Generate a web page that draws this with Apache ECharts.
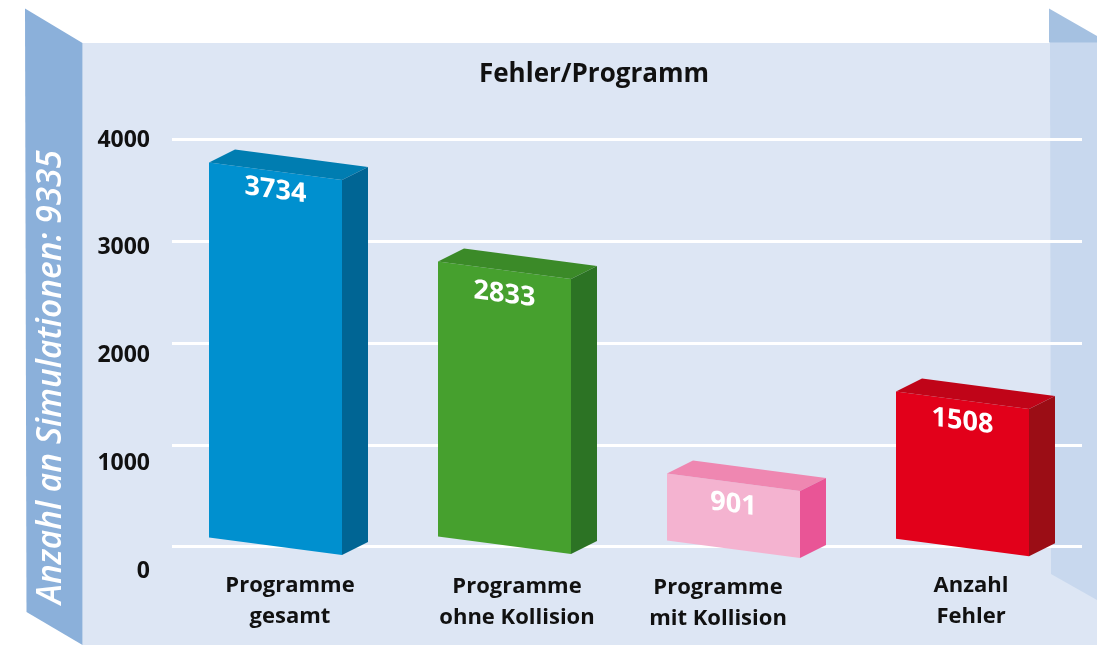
<!DOCTYPE html>
<html>
<head>
<meta charset="utf-8">
<style>html,body{margin:0;padding:0;background:#fff}#c{width:1097px;height:645px}</style>
<script src="https://cdn.jsdelivr.net/npm/echarts@6/dist/echarts.min.js"></script>
</head>
<body>
<div id="c"></div>
<script>
// Data
const categories = ['Programme\ngesamt', 'Programme\nohne Kollision', 'Programme\nmit Kollision', 'Anzahl\nFehler'];
const labelValues = [3734, 2833, 901, 1508];
const drawnTops = [3774, 2801, 717, 1523];
const drawnBases = [88, 98, 59, 76];
const tickValues = [0, 1000, 2000, 3000, 4000];
const titleText = 'Fehler/Programm';
const wallText = 'Anzahl an Simulationen: 9335';

// Styles / layout
const faces = [
  {front:'#0090cf', top:'#007db1', side:'#006594'},
  {front:'#46a02e', top:'#3b8a28', side:'#2c7324'},
  {front:'#f4b3d0', top:'#ef87b1', side:'#e95596'},
  {front:'#e2001a', top:'#c00418', side:'#9b0d15'}
];
const labelDy = [28, 33, 31, 30];
const catPadding = [[0,0,0,4],[1,0,0,0],[2,56,0,0],[0,8,0,0]];
const FONT = '"Open Sans", "Noto Sans", sans-serif';
const W = 133, DX = 26, DY = 13, SLANT = 17.5;

const chart = echarts.init(document.getElementById('c'), null, {renderer:'canvas'});

function renderBar(params, api) {
  const i = api.value(0);
  const t = api.coord([i, api.value(1)]);
  const b = api.coord([i, api.value(2)]);
  const x0 = t[0] - 79, x1 = x0 + W;
  const yT = t[1], yB = b[1];
  const f = faces[i];
  return {
    type: 'group',
    children: [
      {type:'polygon', shape:{points:[[x0,yT],[x1,yT+SLANT],[x1,yB+SLANT],[x0,yB]]}, style:{fill:f.front}},
      {type:'polygon', shape:{points:[[x0,yT],[x0+DX,yT-DY],[x1+DX,yT+SLANT-DY],[x1,yT+SLANT]]}, style:{fill:f.top}},
      {type:'polygon', shape:{points:[[x1,yT+SLANT],[x1+DX,yT+SLANT-DY],[x1+DX,yB+SLANT-DY],[x1,yB+SLANT]]}, style:{fill:f.side}},
      {type:'text', x:(x0+x1)/2, y:yT+labelDy[i], skewY:-Math.atan(SLANT/W),
        style:{text:String(api.value(3)), fill:'#fff', fontFamily:FONT, fontWeight:700, fontSize:27, textAlign:'center', textVerticalAlign:'middle'}}
    ]
  };
}

const poly = (points, fill) => ({type:'polygon', z:-10, silent:true, shape:{points}, style:{fill}});

chart.setOption({
  animation:false,
  backgroundColor:'#fff',
  title:{text:titleText, left:589, top:70, textAlign:'center', textVerticalAlign:'middle',
    textStyle:{fontFamily:FONT, fontWeight:700, fontSize:26, color:'#111'}},
  grid:[
    {left:172, top:139.5, width:910, height:407},
    {left:173.5, top:139.5, width:916, height:407},
    {left:172, top:140, width:910, height:431}
  ],
  xAxis:[
    {gridIndex:0, type:'category', data:categories, show:false},
    {gridIndex:1, type:'category',
      data:categories.map((c,i)=>({value:c, textStyle:{padding:catPadding[i]}})),
      axisLine:{show:false}, axisTick:{show:false},
      axisLabel:{interval:0, margin:24, fontFamily:FONT, fontWeight:700, fontSize:22, lineHeight:31, color:'#111', verticalAlign:'top'}},
    {gridIndex:2, type:'category', data:categories, show:false}
  ],
  yAxis:[
    {gridIndex:0, type:'value', min:0, max:4000, interval:1000,
      axisLine:{show:false}, axisTick:{show:false}, axisLabel:{show:false},
      splitLine:{show:true, lineStyle:{color:'#fff', width:3}}},
    {gridIndex:1, type:'value', min:0, max:4000, interval:1000, show:false, splitLine:{show:false}},
    {gridIndex:2, type:'value', min:tickValues[0], max:tickValues[4], interval:1000,
      axisLine:{show:false}, axisTick:{show:false}, splitLine:{show:false},
      axisLabel:{margin:22, fontFamily:FONT, fontWeight:700, fontSize:23, color:'#111', formatter:v=>String(v)}}
  ],
  series:[{
    type:'custom', xAxisIndex:1, yAxisIndex:1, renderItem:renderBar,
    encode:{x:0, y:1},
    data:categories.map((c,i)=>[i, drawnTops[i], drawnBases[i], labelValues[i]])
  }],
  graphic:{elements:[
    poly([[82.5,43],[1097,43],[1097,645],[82.5,645]], '#dde6f4'),
    poly([[25,8.5],[82.5,43],[82.5,645],[26.5,612]], '#8bb0da'),
    poly([[1050,42],[1097,42],[1097,600],[1051,574]], '#c8d8ee'),
    poly([[1049,8.5],[1097,36],[1097,42.5],[1049,42.5]], '#a5c1e1'),
    {type:'text', x:51.5, y:377, rotation:Math.PI/2, z:-5, silent:true,
      style:{text:wallText, fill:'#fff', fontFamily:FONT, fontStyle:'italic', fontWeight:600, fontSize:33.5, textAlign:'center', textVerticalAlign:'middle'}}
  ]}
});
</script>
</body>
</html>
